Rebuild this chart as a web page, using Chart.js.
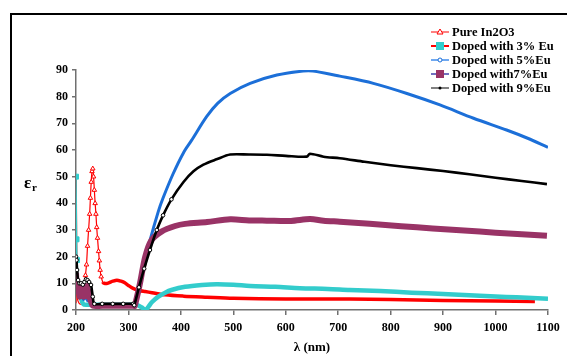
<!DOCTYPE html>
<html>
<head>
<meta charset="utf-8">
<script src="https://cdn.jsdelivr.net/npm/chart.js@4.4.1/dist/chart.umd.min.js"></script>
<style>
  html, body { margin: 0; padding: 0; background: #fff; }
  #wrap { width: 567px; height: 356px; }
</style>
</head>
<body>
<div id="wrap"><canvas id="epsChart" width="567" height="356"></canvas></div>
<script>
(function () {
    const SERIF = "'Liberation Serif', 'Times New Roman', serif";

    // ─── data ────────────────────────────────────────────────────
    const xTicks = [200, 300, 400, 500, 600, 700, 800, 900, 1000, 1100];
    const yTicks = [0, 10, 20, 30, 40, 50, 60, 70, 80, 90];

    const seriesNames = ["Pure In2O3", "Doped with 3% Eu", "Doped with 5%Eu", "Doped with7%Eu", "Doped with 9%Eu"];

    const pureX = [200, 200.5, 201.5, 203, 206, 210, 213, 216, 218, 220, 222, 224, 226, 227.5, 229, 230.5, 232, 233.5, 235, 236.5, 238, 239.5, 241, 243, 244.5, 246, 248, 251, 254, 260, 270, 278, 286, 293, 300, 309, 320, 332, 345, 370, 405, 450, 500, 600, 722, 800, 900, 1000, 1075];
    const pureY = [2.5, 50, 20, 4, 2.5, 2.2, 3, 10, 13, 17, 24, 30, 36, 42, 48, 52, 53, 50, 45, 40, 36, 31, 27, 22, 18.5, 15, 12.5, 10.5, 10, 10, 10.8, 11.2, 10.8, 10.2, 9.2, 8.1, 7.3, 6.9, 6.5, 5.7, 5.2, 4.8, 4.4, 4.1, 4.1, 3.9, 3.6, 3.4, 3.2];

    const eu3X = [200, 201, 202, 204, 207, 210, 214, 220, 240, 260, 280, 300, 315, 325, 333, 338, 345, 357, 370, 382, 408, 440, 468, 500, 532, 580, 627, 680, 722, 780, 840, 900, 960, 1020, 1060, 1100];
    const eu3Y = [50, 26.5, 18.7, 12, 8, 4, 2.2, 2, 2, 2, 2, 2, 2, 1, 0, 1.2, 3, 5, 6.5, 7.5, 8.7, 9.4, 9.7, 9.5, 9, 8.7, 8.2, 7.9, 7.5, 7.1, 6.5, 6, 5.4, 4.9, 4.6, 4.2];

    const eu5X = [200, 201, 203, 206, 210, 214, 218, 222, 226, 232, 250, 280, 311, 322, 333, 341, 357, 366, 385, 405, 420, 449, 470, 494, 532, 583, 633, 652, 703, 767, 831, 894, 958, 1021, 1060, 1100];
    const eu5Y = [16, 10, 7, 5, 6, 4, 5, 3.5, 4, 1.8, 1.8, 1.8, 2, 10, 19, 26, 37, 42, 51, 59, 63.5, 72.5, 77.5, 81.2, 85, 88.1, 89.6, 89.6, 87.7, 85, 81.2, 76.9, 71.9, 67.5, 64.5, 61];

    const eu7X = [200, 201, 203, 205, 207, 209, 211, 213, 215, 217, 219, 221, 223, 225, 227, 229, 232, 250, 280, 310, 312, 322, 332, 344, 363, 389, 408, 450, 494, 530, 564, 610, 646, 672, 703, 760, 820, 880, 940, 1000, 1050, 1098];
    const eu7Y = [14, 10, 7, 9, 5, 8, 6, 9, 5, 8, 6, 9, 5, 7, 4, 3, 1.6, 1.6, 1.6, 1.6, 1.5, 10, 20, 26.2, 29.4, 31.5, 32.3, 33, 34, 33.6, 33.5, 33.4, 34.1, 33.5, 33.1, 32.3, 31.4, 30.6, 29.8, 29, 28.4, 27.8];

    const eu9X = [200, 201, 202, 204, 206.5, 209.5, 213, 216, 219, 222, 225, 228.6, 232, 235, 250, 270, 290, 309, 311, 320, 330, 341, 354, 366, 382, 405, 424, 443, 468, 494, 530, 564, 600, 640, 646, 672, 703, 750, 800, 850, 900, 950, 1000, 1050, 1098];
    const eu9Y = [20, 18.7, 15, 11.2, 10, 10, 9.5, 10.5, 11.5, 11.2, 10.5, 9.4, 5, 2.3, 2.3, 2.3, 2.3, 2.3, 1.8, 8.5, 15.5, 22.5, 30, 35.5, 41.5, 48, 52, 54.5, 56.5, 58.3, 58.3, 58.2, 57.8, 57.5, 58.6, 57.5, 56.9, 55.6, 54.3, 53.2, 52.1, 50.9, 49.6, 48.4, 47.2];

    // ─── colours ──────────────────────────────────────────────────
    const RED = '#ff0000';
    const CYAN = '#33cccc';
    const BLUE = '#1c6fd8';
    const PLUM = '#993366';
    const BLACK = '#000000';

    const pts = (xs, ys) => xs.map((x, i) => ({ x, y: ys[i] }));

    // legend entries: line colour, marker
    const legendItems = [
        { text: seriesNames[0], line: '#ff8080', marker: 'triangle', fill: '#ffffff', stroke: RED },
        { text: seriesNames[1], line: RED, marker: 'rect', fill: CYAN, stroke: CYAN },
        { text: seriesNames[2], line: '#6fa8f0', marker: 'circle', fill: '#ffffff', stroke: BLUE },
        { text: seriesNames[3], line: '#7070c0', marker: 'rect', fill: PLUM, stroke: PLUM },
        { text: seriesNames[4], line: '#808080', marker: 'dot', fill: BLACK, stroke: BLACK },
    ];

    // ─── frame, y title and legend plugin ─────────────────────────
    const decorPlugin = {
        id: 'decor',
        beforeDraw(chart) {
            const ctx = chart.ctx;
            ctx.save();
            ctx.fillStyle = '#000';
            ctx.fillRect(10, 13, chart.width - 10, 2);
            ctx.fillRect(10, 13, 2, chart.height - 13);
            ctx.restore();
        },
        afterDraw(chart) {
            const ctx = chart.ctx;
            const area = chart.chartArea;
            ctx.save();
            ctx.fillStyle = '#000';
            ctx.textBaseline = 'middle';
            // y title: epsilon with subscript r
            const yMid = (area.top + area.bottom) / 2 - 6;
            ctx.font = `bold 17px ${SERIF}`;
            ctx.textAlign = 'left';
            ctx.fillText('ε', 24, yMid);
            ctx.font = `bold 11px ${SERIF}`;
            ctx.fillText('r', 32, yMid + 4);

            // legend
            const lx = 431, tx = 452;
            let ly = 32;
            ctx.font = `bold 12.5px ${SERIF}`;
            legendItems.forEach((it) => {
                ctx.strokeStyle = it.line;
                ctx.lineWidth = 2;
                ctx.beginPath();
                ctx.moveTo(lx, ly);
                ctx.lineTo(lx + 18, ly);
                ctx.stroke();
                const cx = lx + 9;
                ctx.lineWidth = 1;
                ctx.strokeStyle = it.stroke;
                ctx.fillStyle = it.fill;
                ctx.beginPath();
                if (it.marker === 'triangle') {
                    ctx.moveTo(cx, ly - 3); ctx.lineTo(cx + 3, ly + 2); ctx.lineTo(cx - 3, ly + 2); ctx.closePath();
                    ctx.fill(); ctx.stroke();
                } else if (it.marker === 'rect') {
                    ctx.rect(cx - 4, ly - 4, 8, 8);
                    ctx.fill();
                } else if (it.marker === 'circle') {
                    ctx.arc(cx, ly, 2, 0, Math.PI * 2);
                    ctx.fill(); ctx.stroke();
                } else {
                    ctx.arc(cx, ly, 1.5, 0, Math.PI * 2);
                    ctx.fill();
                }
                ctx.fillStyle = '#000';
                ctx.fillText(it.text, tx, ly + 0.5);
                ly += 14;
            });
            ctx.restore();
        },
    };

    const tickFont = { family: SERIF, size: 12, weight: 'bold' };

    new Chart(document.getElementById('epsChart'), {
        type: 'line',
        data: {
            datasets: [
                {
                    label: seriesNames[0],
                    data: pts(pureX, pureY),
                    borderColor: RED,
                    segment: { borderWidth: (c) => (c.p0.parsed.x < 249 ? 1.2 : 3.5) },
                    pointStyle: 'triangle',
                    pointRadius: (c) => (c.raw && c.raw.x >= 214 && c.raw.x <= 250 ? 2.6 : 0),
                    pointBackgroundColor: '#ffffff',
                    pointBorderColor: RED,
                    pointBorderWidth: 1,
                    order: 5,
                },
                {
                    label: seriesNames[1],
                    data: pts(eu3X, eu3Y),
                    borderColor: CYAN,
                    segment: { borderWidth: (c) => (c.p0.parsed.x < 207 ? 1.5 : 4.5) },
                    pointStyle: 'rect',
                    pointRadius: (c) => (c.raw && c.raw.x <= 202 ? 3.5 : 0),
                    pointBackgroundColor: CYAN,
                    pointBorderColor: CYAN,
                    order: 4,
                },
                {
                    label: seriesNames[2],
                    data: pts(eu5X, eu5Y),
                    borderColor: BLUE,
                    borderWidth: 3,
                    pointRadius: 0,
                    order: 3,
                },
                {
                    label: seriesNames[3],
                    data: pts(eu7X, eu7Y),
                    borderColor: PLUM,
                    borderWidth: 6,
                    pointRadius: 0,
                    order: 2,
                },
                {
                    label: seriesNames[4],
                    data: pts(eu9X, eu9Y),
                    borderColor: BLACK,
                    borderWidth: 2.6,
                    pointRadius: (c) => (c.raw && c.raw.x <= 390 ? 1.8 : 0),
                    pointBackgroundColor: '#ffffff',
                    pointBorderColor: BLACK,
                    pointBorderWidth: 1,
                    order: 1,
                },
            ],
        },
        options: {
            responsive: false,
            animation: false,
            devicePixelRatio: 1,
            tension: 0.3,
            layout: { padding: { top: 70, right: 19, left: 0, bottom: 0 } },
            plugins: { legend: { display: false }, tooltip: { enabled: false } },
            scales: {
                x: {
                    type: 'linear',
                    min: xTicks[0],
                    max: xTicks[xTicks.length - 1],
                    afterBuildTicks: (s) => { s.ticks = xTicks.map((v) => ({ value: v })); },
                    afterFit: (s) => { s.height = 46; },
                    ticks: { font: tickFont, color: '#000', padding: 6, maxRotation: 0, callback: (v) => String(v) },
                    grid: { drawOnChartArea: false, tickLength: 5, color: '#707070', lineWidth: 1.5 },
                    border: { color: '#707070', width: 1.5 },
                    title: { display: true, text: 'λ (nm)', color: '#000', font: { family: SERIF, size: 13, weight: 'bold' }, padding: { top: 0, bottom: 1 } },
                },
                y: {
                    min: yTicks[0],
                    max: yTicks[yTicks.length - 1],
                    afterBuildTicks: (s) => { s.ticks = yTicks.map((v) => ({ value: v })); },
                    afterFit: (s) => { s.width = 76; },
                    ticks: { font: tickFont, color: '#000', padding: 4, callback: (v) => String(v) },
                    grid: { drawOnChartArea: false, tickLength: 4, color: '#707070', lineWidth: 1.5 },
                    border: { color: '#707070', width: 1.5 },
                },
            },
        },
        plugins: [decorPlugin],
    });
})();
</script>
</body>
</html>
